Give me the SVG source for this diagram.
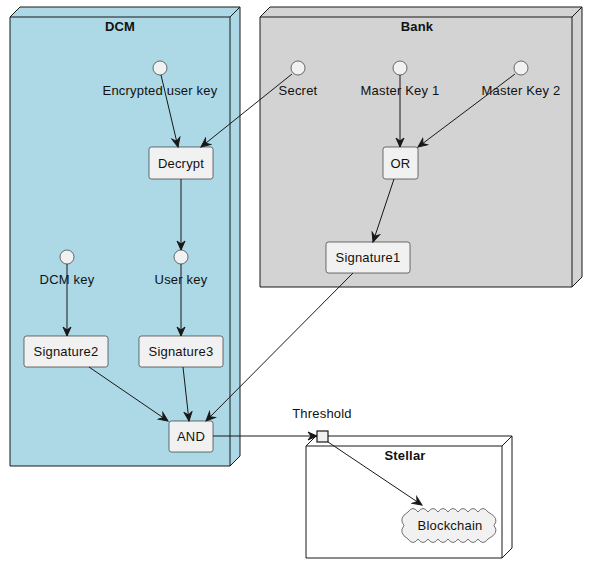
<svg xmlns="http://www.w3.org/2000/svg" width="591" height="570" viewBox="0 0 591 570">
<defs>
<marker id="arr" markerWidth="12" markerHeight="12" viewBox="0 0 12 12" refX="10" refY="5" orient="auto" markerUnits="userSpaceOnUse">
<path d="M1,1 L10,5 L1,9 L4,5 Z" fill="#181818" stroke="#181818" stroke-width="1" stroke-linejoin="miter"/>
</marker>
<style>
text{font-family:"Liberation Sans",Arial,sans-serif;font-size:13px;fill:#111;text-anchor:middle;letter-spacing:0.2px}
.title{font-weight:bold}
.box{fill:#F1F1F1;stroke:#181818;stroke-width:0.6}
.circ{fill:#F1F1F1;stroke:#181818;stroke-width:0.6}
.port{fill:#F1F1F1;stroke:#181818;stroke-width:1.2}
.edge{fill:none;stroke:#181818;stroke-width:1;marker-end:url(#arr)}
.cont{stroke:#181818;stroke-width:1}
</style>
</defs>
<rect width="591" height="570" fill="#fff"/>

<g id="DCM">
<path class="cont" fill="#ADD8E6" d="M10,17 L20,7 L240,7 L240,456 L230,466 L10,466 Z"/>
<path class="cont" fill="none" d="M10,17 L230,17 L240,7 M230,17 L230,466"/>
<text class="title" x="120" y="31">DCM</text>
</g>
<g id="Bank">
<path class="cont" fill="#D3D3D3" d="M260,17 L270,7 L582,7 L582,277 L572,287 L260,287 Z"/>
<path class="cont" fill="none" d="M260,17 L572,17 L582,7 M572,17 L572,287"/>
<text class="title" x="417" y="31">Bank</text>
</g>
<g id="Stellar">
<path class="cont" fill="#FFFFFF" d="M306,446 L316,436 L512,436 L512,548 L502,558 L306,558 Z"/>
<path class="cont" fill="none" d="M306,446 L502,446 L512,436 M502,446 L502,558"/>
<text class="title" x="405" y="460">Stellar</text>
</g>

<g id="EncryptedUserKey">
<circle class="circ" cx="160" cy="68" r="7"/>
<text x="160" y="95">Encrypted user key</text>
</g>
<g id="Secret">
<circle class="circ" cx="298" cy="68" r="7"/>
<text x="298" y="95">Secret</text>
</g>
<g id="MasterKey1">
<circle class="circ" cx="400" cy="68" r="7"/>
<text x="400" y="95">Master Key 1</text>
</g>
<g id="MasterKey2">
<circle class="circ" cx="521" cy="68" r="7"/>
<text x="521" y="95">Master Key 2</text>
</g>
<g id="Decrypt">
<rect class="box" x="149" y="147" width="64" height="32" rx="2.5"/>
<text x="181" y="168">Decrypt</text>
</g>
<g id="OR">
<rect class="box" x="383" y="147" width="35" height="32" rx="2.5"/>
<text x="400.5" y="168">OR</text>
</g>
<g id="Signature1">
<rect class="box" x="326" y="242" width="84" height="31" rx="2.5"/>
<text x="368" y="262">Signature1</text>
</g>
<g id="DCMKey">
<circle class="circ" cx="67" cy="257" r="7"/>
<text x="67" y="284">DCM key</text>
</g>
<g id="UserKey">
<circle class="circ" cx="181" cy="257" r="7"/>
<text x="181" y="284">User key</text>
</g>
<g id="Signature2">
<rect class="box" x="24" y="336" width="84" height="31" rx="2.5"/>
<text x="66" y="356">Signature2</text>
</g>
<g id="Signature3">
<rect class="box" x="139" y="336" width="84" height="31" rx="2.5"/>
<text x="181" y="356">Signature3</text>
</g>
<g id="AND">
<rect class="box" x="169" y="421" width="44" height="31" rx="2.5"/>
<text x="191" y="441">AND</text>
</g>
<g id="Threshold">
<rect class="port" x="317" y="431" width="11" height="11"/>
<text x="322" y="418">Threshold</text>
</g>
<g id="Blockchain">
<path class="box" d="M408,512 Q413,505 418,512 Q423,505 428,512 Q433,505 438,512 Q443,505 448,512 Q453,505 458,512 Q463,505 468,512 Q473,505 478,512 Q483,505 488,512 Q500,518 494,525.5 Q500,533 488,539 Q483,546 478,539 Q473,546 468,539 Q463,546 458,539 Q453,546 448,539 Q443,546 438,539 Q433,546 428,539 Q423,546 418,539 Q413,546 408,539 Q398,533 404,525.5 Q398,518 408,512 Z"/>
<text x="450" y="530">Blockchain</text>
</g>

<g id="connectors">
<line class="edge" x1="161" y1="75" x2="178" y2="147"/>
<line class="edge" x1="292" y1="74" x2="201" y2="147"/>
<line class="edge" x1="400" y1="75" x2="400" y2="147"/>
<line class="edge" x1="515" y1="74" x2="418" y2="147"/>
<line class="edge" x1="394" y1="179" x2="373" y2="242"/>
<line class="edge" x1="181" y1="179" x2="181" y2="250"/>
<line class="edge" x1="67" y1="264" x2="67" y2="336"/>
<line class="edge" x1="181" y1="264" x2="181" y2="336"/>
<line class="edge" x1="89" y1="367" x2="168" y2="421"/>
<line class="edge" x1="183" y1="367" x2="189" y2="421"/>
<line class="edge" x1="353" y1="273" x2="206" y2="421"/>
<line class="edge" x1="213" y1="436" x2="317" y2="436"/>
<line class="edge" x1="328" y1="442" x2="422" y2="505"/>
</g>
</svg>
